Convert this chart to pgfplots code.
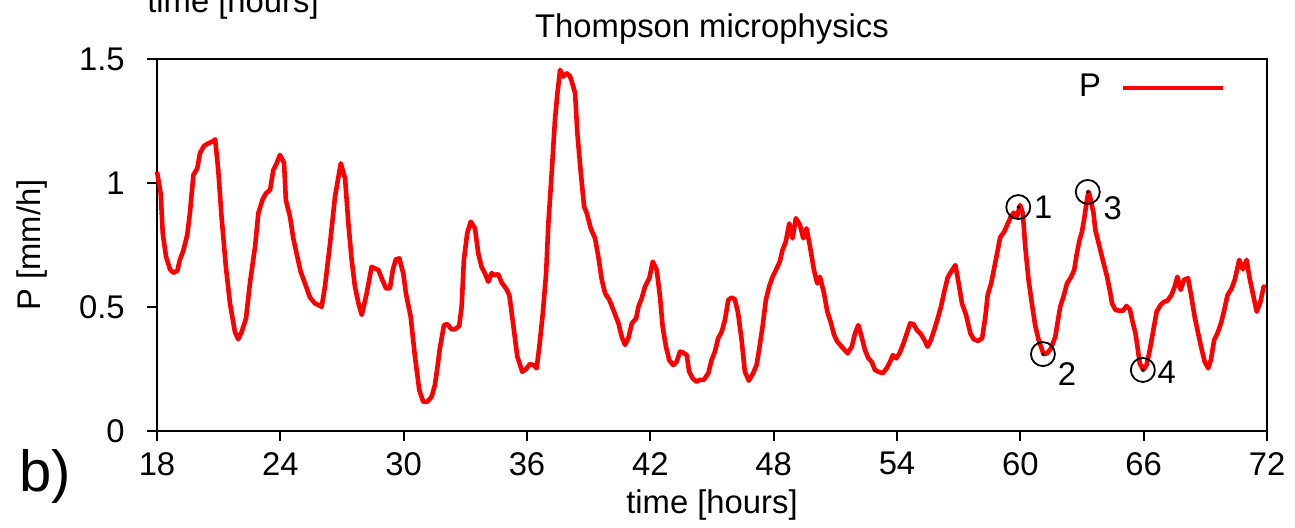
\documentclass[border=0pt]{standalone}
\usepackage{fontspec}
\setmainfont{Liberation Sans}
\usepackage{pgfplots}
\pgfplotsset{compat=1.18}
\begin{document}
\fontsize{16.4}{19}\selectfont
\begin{tikzpicture}
\useasboundingbox (-78.5pt,-48.5pt) rectangle (569pt,215.5pt);
\begin{axis}[
  at={(0,0)}, anchor=south west,
  scale only axis, width=555pt, height=186pt,
  xmin=18, xmax=72, ymin=0, ymax=1.5,
  xtick={18,24,30,36,42,48,54,60,66,72},
  ytick={0,0.5,1,1.5},
  tick align=outside, tick pos=left,
  major tick length=5pt,
  axis line style={line width=1pt},
  every tick/.style={line width=1pt, black},
  /pgf/number format/assume math mode=true,
  ticklabel style={font=\fontsize{16.4}{19}\selectfont},
  yticklabel style={xshift=-5.5pt},
  every axis title shift=0pt,
  title={Thompson microphysics},
  title style={at={(axis description cs:0.5,1)}, anchor=base, yshift=10.5pt, inner sep=0pt},
  xlabel={time [hours]},
  xlabel style={at={(axis description cs:0.5,0)}, anchor=base, yshift=-41.5pt, inner sep=0pt},
  ylabel={P [mm/h]},
  ylabel style={at={(axis description cs:0,0.5)}, anchor=center, yshift=62.5pt, inner sep=0pt},
  legend style={draw=none, fill=none, at={(0.963,0.922)}, anchor=east, inner sep=0pt, column sep=8pt, font=\fontsize{16.4}{19}\selectfont},
  legend plot pos=right,
  legend image code/.code={\draw[#1] (0pt,0pt) -- (50pt,0pt);},
  clip=false,
]
\addplot[red, line width=2.3pt, line join=round] coordinates {
(18.0,1.045)(18.18,0.958)(18.28,0.797)(18.44,0.703)(18.63,0.652)(18.79,0.638)(18.99,0.646)(19.11,0.69)(19.28,0.727)(19.47,0.79)
(19.6,0.878)(19.77,1.032)(19.96,1.059)(20.09,1.12)(20.28,1.149)(20.5,1.16)(20.7,1.167)(20.83,1.176)(20.98,1.052)(21.14,0.864)
(21.35,0.663)(21.55,0.515)(21.79,0.40)(21.95,0.37)(22.12,0.40)(22.33,0.454)(22.52,0.595)(22.77,0.743)(22.93,0.878)(23.14,0.934)
(23.3,0.958)(23.5,0.972)(23.66,1.052)(23.82,1.079)(23.98,1.113)(24.18,1.082)(24.27,0.931)(24.47,0.864)(24.63,0.777)(24.79,0.716)
(24.99,0.642)(25.2,0.595)(25.44,0.539)(25.68,0.515)(26.01,0.501)(26.17,0.582)(26.42,0.757)(26.66,0.945)(26.94,1.079)(27.15,1.019)
(27.31,0.837)(27.47,0.69)(27.63,0.582)(27.8,0.515)(27.96,0.468)(28.2,0.555)(28.44,0.662)(28.77,0.649)(28.93,0.616)(29.14,0.575)
(29.33,0.575)(29.47,0.649)(29.62,0.692)(29.79,0.696)(29.98,0.636)(30.11,0.555)(30.34,0.461)(30.55,0.30)(30.76,0.165)(30.95,0.118)
(31.15,0.118)(31.36,0.138)(31.52,0.185)(31.68,0.28)(31.76,0.333)(31.96,0.427)(32.12,0.431)(32.33,0.41)(32.49,0.41)(32.7,0.423)
(32.82,0.501)(32.93,0.69)(33.09,0.797)(33.26,0.844)(33.47,0.817)(33.63,0.716)(33.79,0.662)(33.95,0.636)(34.12,0.602)(34.28,0.636)
(34.44,0.629)(34.6,0.632)(34.77,0.598)(34.98,0.575)(35.14,0.548)(35.3,0.448)(35.53,0.30)(35.77,0.239)(35.95,0.249)(36.14,0.27)
(36.31,0.266)(36.47,0.253)(36.6,0.34)(36.77,0.475)(36.93,0.636)(37.04,0.837)(37.2,1.039)(37.36,1.254)(37.48,1.362)(37.61,1.456)
(37.77,1.429)(37.94,1.442)(38.09,1.431)(38.18,1.408)(38.34,1.362)(38.45,1.2)(38.62,1.039)(38.78,0.904)(38.91,0.878)(39.1,0.817)
(39.31,0.777)(39.47,0.703)(39.64,0.609)(39.8,0.555)(40.01,0.528)(40.2,0.488)(40.45,0.434)(40.61,0.38)(40.77,0.347)(40.93,0.374)
(41.1,0.434)(41.31,0.454)(41.42,0.501)(41.58,0.535)(41.74,0.582)(41.95,0.616)(42.12,0.683)(42.31,0.649)(42.47,0.542)(42.6,0.421)
(42.76,0.34)(42.92,0.286)(43.11,0.266)(43.28,0.279)(43.44,0.32)(43.6,0.316)(43.77,0.306)(43.89,0.239)(44.06,0.212)(44.25,0.199)
(44.41,0.206)(44.6,0.206)(44.82,0.233)(44.98,0.286)(45.14,0.32)(45.3,0.374)(45.47,0.40)(45.63,0.448)(45.79,0.528)(45.95,0.538)
(46.11,0.531)(46.27,0.475)(46.44,0.367)(46.6,0.239)(46.79,0.203)(47.0,0.233)(47.17,0.266)(47.29,0.327)(47.46,0.421)(47.62,0.528)
(47.78,0.582)(47.95,0.622)(48.11,0.649)(48.3,0.683)(48.43,0.73)(48.59,0.763)(48.76,0.837)(48.92,0.777)(49.08,0.858)(49.28,0.831)
(49.44,0.777)(49.6,0.817)(49.77,0.743)(49.96,0.649)(50.12,0.595)(50.25,0.622)(50.45,0.555)(50.61,0.481)(50.77,0.441)(50.94,0.387)
(51.1,0.36)(51.31,0.34)(51.6,0.313)(51.8,0.34)(51.96,0.394)(52.12,0.427)(52.28,0.38)(52.44,0.327)(52.61,0.293)(52.77,0.279)
(52.93,0.246)(53.09,0.239)(53.31,0.233)(53.5,0.253)(53.66,0.279)(53.8,0.306)(53.96,0.293)(54.12,0.313)(54.32,0.354)(54.48,0.394)
(54.64,0.434)(54.8,0.431)(54.97,0.407)(55.16,0.391)(55.33,0.367)(55.49,0.34)(55.65,0.367)(55.81,0.407)(55.98,0.454)(56.14,0.501)
(56.3,0.562)(56.47,0.62)(56.63,0.642)(56.84,0.669)(57.0,0.595)(57.16,0.515)(57.36,0.468)(57.57,0.394)(57.73,0.37)(57.94,0.363)
(58.14,0.374)(58.3,0.461)(58.41,0.548)(58.58,0.595)(58.79,0.683)(59.02,0.781)(59.22,0.804)(59.38,0.835)(59.54,0.864)(59.67,0.88)
(59.83,0.864)(59.99,0.911)(60.12,0.878)(60.24,0.743)(60.4,0.609)(60.56,0.515)(60.72,0.427)(60.89,0.367)(61.13,0.31)(61.3,0.313)
(61.49,0.333)(61.7,0.38)(61.86,0.461)(61.94,0.501)(62.1,0.542)(62.27,0.595)(62.46,0.62)(62.62,0.649)(62.75,0.716)(62.88,0.77)
(63.0,0.804)(63.11,0.858)(63.24,0.931)(63.32,0.965)(63.43,0.931)(63.56,0.878)(63.65,0.81)(63.81,0.757)(64.03,0.683)(64.22,0.622)
(64.38,0.555)(64.46,0.515)(64.63,0.488)(64.84,0.485)(65.0,0.485)(65.16,0.504)(65.33,0.491)(65.44,0.448)(65.6,0.394)(65.71,0.333)
(65.81,0.273)(65.98,0.246)(66.14,0.266)(66.3,0.327)(66.47,0.407)(66.63,0.481)(66.82,0.508)(66.99,0.521)(67.15,0.525)(67.35,0.548)
(67.51,0.582)(67.64,0.622)(67.8,0.569)(67.96,0.609)(68.16,0.616)(68.32,0.542)(68.48,0.461)(68.65,0.394)(68.81,0.333)(68.97,0.279)
(69.14,0.253)(69.27,0.286)(69.43,0.367)(69.59,0.394)(69.76,0.434)(69.92,0.488)(70.08,0.548)(70.28,0.575)(70.44,0.612)(70.65,0.69)
(70.82,0.652)(71.01,0.69)(71.14,0.622)(71.31,0.555)(71.5,0.481)(71.68,0.521)(71.84,0.582)(71.95,0.58)
};
\addlegendentry{P}
\addplot[only marks, mark=o, mark size=6pt, black, mark options={line width=0.9pt}, forget plot]
  coordinates {(59.9,0.903)(61.1,0.31)(63.28,0.964)(65.96,0.246)};
\addplot[only marks, mark=*, mark size=0.6pt, black, forget plot]
  coordinates {(59.9,0.903)(61.1,0.31)(63.28,0.964)(65.96,0.246)};
\node[anchor=center] at (axis cs:59.9,0.903) [xshift=12.5pt] {1};
\node[anchor=center] at (axis cs:61.1,0.31) [xshift=12pt, yshift=-10pt] {2};
\node[anchor=center] at (axis cs:63.28,0.964) [xshift=12.5pt, yshift=-8pt] {3};
\node[anchor=center] at (axis cs:65.96,0.246) [xshift=12pt, yshift=-1pt] {4};
\end{axis}
\node[font=\fontsize{29}{32}\selectfont] at (-56pt,-22.5pt) {b)};
\node[anchor=base] at (38pt,209pt) {time [hours]};
\end{tikzpicture}
\end{document}
